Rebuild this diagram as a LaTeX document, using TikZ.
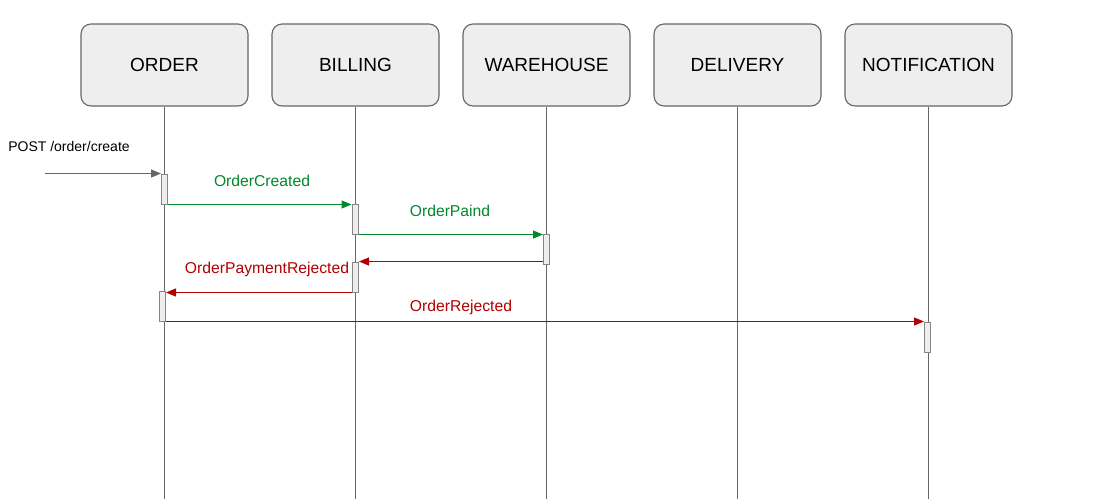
\documentclass[tikz,border=0pt]{standalone}
\usepackage{fontspec}
\setmainfont{Liberation Sans}
\usetikzlibrary{arrows.meta}
\definecolor{boxfill}{HTML}{EEEEEE}
\definecolor{boxline}{HTML}{666666}
\definecolor{okgreen}{HTML}{00882B}
\definecolor{errred}{HTML}{B20000}
\begin{document}
\begin{tikzpicture}[x=1pt,y=-1pt,
  actor/.style={draw=boxline, fill=boxfill, rounded corners=10pt, line width=1.1pt,
    minimum width=167pt, minimum height=82pt, inner sep=0pt, font=\fontsize{19}{22}\selectfont},
  life/.style={draw=boxline, line width=0.9pt},
  actbar/.style={draw=boxline!80, fill=boxfill, line width=1pt, minimum width=6pt, minimum height=30pt, inner sep=0pt},
  msg/.style={line width=1pt, -{Triangle[length=10pt,width=8pt]}},
  lbl/.style={font=\fontsize{15.7}{18}\selectfont},
]
\useasboundingbox (0,0) rectangle (1116,499);
% actors
\node[actor] (order) at (164.5,65) {ORDER};
\node[actor] (billing) at (355.5,65) {BILLING};
\node[actor] (warehouse) at (546.5,65) {WAREHOUSE};
\node[actor] (delivery) at (737.5,65) {DELIVERY};
\node[actor] (notif) at (928.5,65) {NOTIFICATION};
% lifeline ends
\coordinate (orderE) at (164.5,499);
\coordinate (billingE) at (355.5,499);
\coordinate (warehouseE) at (546.5,499);
\coordinate (deliveryE) at (737.5,499);
\coordinate (notifE) at (928.5,499);
\draw[life] (order.south) -- (orderE);
\draw[life] (billing.south) -- (billingE);
\draw[life] (warehouse.south) -- (warehouseE);
\draw[life] (delivery.south) -- (deliveryE);
\draw[life] (notif.south) -- (notifE);
% activations
\node[actbar] (a1) at (164.5,189) {};
\node[actbar] (a2) at (355,219) {};
\node[actbar] (a3) at (546.5,249) {};
\node[actbar] (a4) at (355.5,277) {};
\node[actbar] (a5) at (162.5,306) {};
\node[actbar] (a6) at (927.5,337) {};
% messages
\coordinate (start) at (45,174);
\draw[msg, draw=boxline, fill=boxline] (start |- a1.north) -- (a1.north west);
\node[font=\fontsize{14}{16}\selectfont] (postlbl) at (69,146) {POST /order/create};
\draw[msg, draw=okgreen, fill=okgreen] (a1.south east) -- (a1.south east -| a2.west);
\node[lbl, text=okgreen] (l1) at (262,181) {OrderCreated};
\draw[msg, draw=okgreen, fill=okgreen] (a2.south east) -- (a2.south east -| a3.west);
\node[lbl, text=okgreen] (l2) at (450,211) {OrderPaind};
\draw[msg, draw=errred, fill=errred] (a3.west |- a4.north) -- (a4.north east);
\draw[msg, draw=errred, fill=errred] (a4.south west) -- (a4.south west -| a5.east);
\node[lbl, text=errred] (l3) at (267,269) {OrderPaymentRejected};
\draw[msg, draw=errred, fill=errred] (a5.south east) -- (a5.south east -| a6.west);
\node[lbl, text=errred] (l4) at (461,307) {OrderRejected};
\end{tikzpicture}
\end{document}
